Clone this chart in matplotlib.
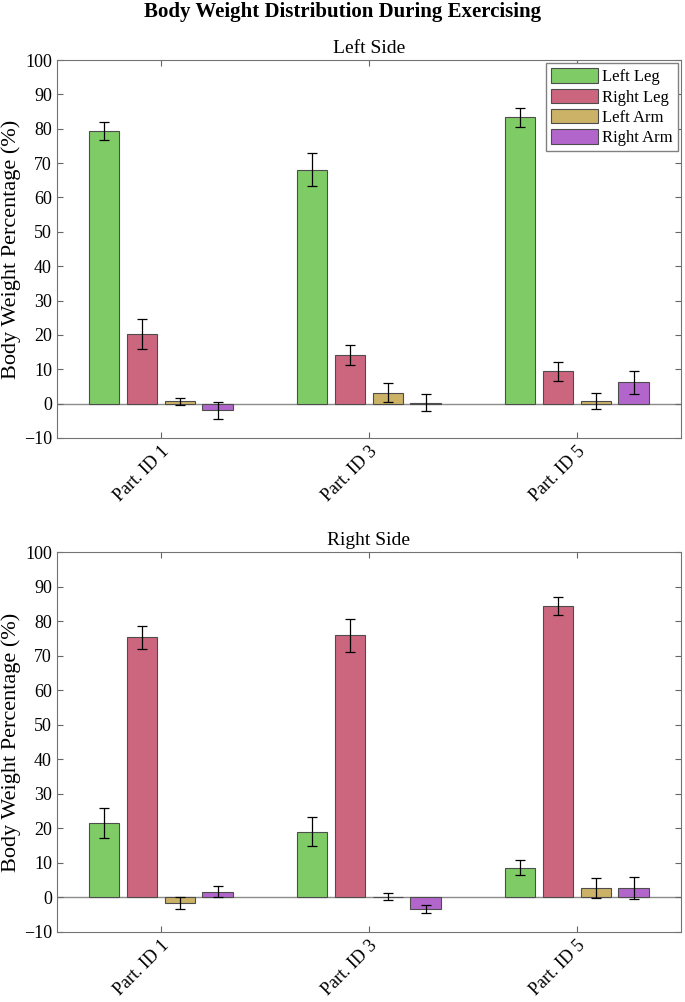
import numpy as np
import matplotlib.pyplot as plt

plt.rcParams['font.family'] = ['Liberation Serif', 'DejaVu Serif']

groups = ['Part. ID 1', 'Part. ID 3', 'Part. ID 5']
series = ['Left Leg', 'Right Leg', 'Left Arm', 'Right Arm']
colors = ['#7fcc66', '#cc667f', '#ccb266', '#b266cc']

# rows = participants, columns = limbs
left_mean = np.array([[79.3, 20.2, 0.6, -2.0],
                      [68.1, 14.2, 3.2, 0.3],
                      [83.4, 9.4, 0.7, 6.2]])
left_err = np.array([[2.7, 4.3, 1.0, 2.4],
                     [4.9, 2.9, 2.8, 2.6],
                     [2.8, 2.8, 2.4, 3.4]])
right_mean = np.array([[21.5, 75.3, -1.7, 1.6],
                       [19.0, 75.9, 0.2, -3.3],
                       [8.6, 84.4, 2.7, 2.8]])
right_err = np.array([[4.4, 3.3, 1.8, 1.6],
                      [4.2, 4.8, 1.0, 1.2],
                      [2.1, 2.6, 3.0, 3.2]])


def grouped_bars(ax, means, errs, title, legend=False):
    x = np.arange(1, len(groups) + 1)
    nb = means.shape[1]
    gw = min(0.8, nb / (nb + 1.5))
    step = gw / nb
    ax.axhline(0, color='0.55', lw=1, zorder=1)
    for i in range(nb):
        pos = x - gw / 2 + step * (i + 0.5)
        ax.bar(pos, means[:, i], width=step * 0.8, color=colors[i],
               edgecolor='0.3', linewidth=0.8, label=series[i], zorder=2)
        ax.errorbar(pos, means[:, i], yerr=errs[:, i], fmt='none',
                    ecolor='black', elinewidth=0.9, capsize=3.5,
                    capthick=0.9, zorder=3)
    ax.set_xlim(0.5, 3.5)
    ax.set_ylim(-10, 100)
    ax.set_yticks(np.arange(-10, 101, 10))
    ax.set_xticks(x)
    ax.set_xticklabels(groups, rotation=45, ha='right',
                       rotation_mode='anchor')
    ax.set_ylabel('Body Weight Percentage (%)', fontsize=16, labelpad=2)
    ax.set_title(title, fontsize=14, pad=5)
    ax.tick_params(direction='in', top=True, right=True, labelsize=13,
                   color='0.4', length=4)
    ax.tick_params(axis='x', pad=4)
    for s in ax.spines.values():
        s.set_color('0.45')
    if legend:
        ax.legend(loc='upper right', fontsize=12, handlelength=2.8,
                  handleheight=0.95, handletextpad=0.25, labelspacing=0.2,
                  borderpad=0.3, borderaxespad=0.2, fancybox=False,
                  edgecolor='0.5', framealpha=1)


fig = plt.figure(figsize=(6.85, 10.02), dpi=100)
ax1 = fig.add_axes([0.083, 0.563, 0.911, 0.377])
ax2 = fig.add_axes([0.083, 0.070, 0.911, 0.379])
grouped_bars(ax1, left_mean, left_err, 'Left Side', legend=True)
grouped_bars(ax2, right_mean, right_err, 'Right Side')
fig.suptitle('Body Weight Distribution During Exercising', fontsize=15,
             fontweight='bold', y=0.998)
fig.savefig('out.png', dpi=100)
